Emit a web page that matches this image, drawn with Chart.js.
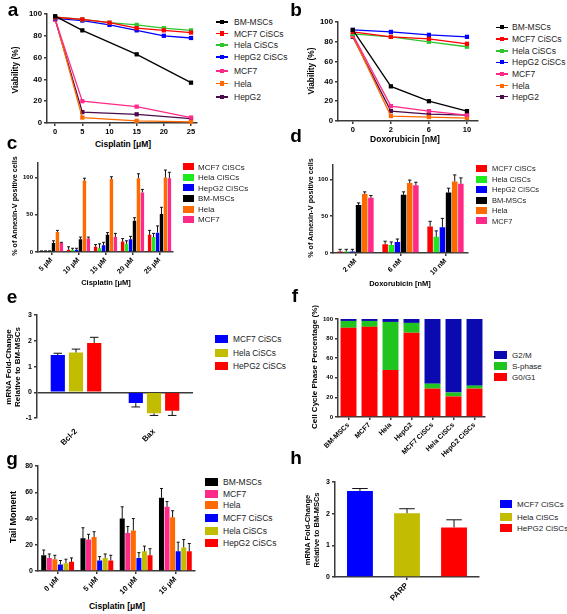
<!DOCTYPE html>
<html>
<head>
<meta charset="utf-8">
<script src="https://cdn.jsdelivr.net/npm/chart.js@4"></script>
<style>
  body { margin: 0; background: #fff; }
  #fig { position: relative; width: 567px; height: 614px; overflow: hidden; font-family: "Liberation Sans", Arial, sans-serif; }
  #fig canvas { position: absolute; }
  .txt { position: absolute; white-space: pre; text-align: center; line-height: 1.15; color: #000; z-index: 2; }
  .leg { position: absolute; white-space: nowrap; color: #222; z-index: 2; transform: translateY(-50%); }
  .sw { position: absolute; z-index: 2; }
</style>
</head>
<body>
<div id="fig"></div>
<script>
// ---- data ----
// a: viability vs cisplatin
const cisDoseAll = [0, 5, 10, 15, 20, 25];
const cisDoseSome = [0, 5, 15, 25];
const cisTicks = [0, 5, 10, 15, 20, 25];
const viaTicks = [0, 20, 40, 60, 80, 100];
const aBM = [98, 85, 63, 37];
const aMCF7CSC = [97, 95, 92, 87, 85, 83];
const aHelaCSC = [97, 95, 92, 90, 87, 85];
const aHepCSC = [96, 94, 90, 85, 80, 78];
const aMCF7 = [95, 20, 15, 5];
const aHela = [96, 5, 2, 1];
const aHep = [95, 10, 8, 4];

// b: viability vs doxorubicin
const doxLabels = ['0', '2', '6', '10'];
const bBM = [92, 35, 20, 10];
const bMCF7CSC = [90, 85, 83, 78];
const bHelaCSC = [88, 85, 80, 75];
const bHepCSC = [92, 90, 87, 85];
const bMCF7 = [87, 15, 10, 6];
const bHela = [86, 5, 4, 3];
const bHep = [85, 10, 7, 6];

// c: annexin-V, cisplatin
const cisLabels = ['5 μM', '10 μM', '15 μM', '20 μM', '25 μM'];
const annexTicks = [0, 50, 100];
const cMCF7CSC = [1, 3, 7, 14, 23];      const cMCF7CSCerr = [0.5, 4, 3, 4, 6];
const cHelaCSC = [1, 3, 5, 11, 20];      const cHelaCSCerr = [0.5, 2, 6, 4, 5];
const cHepCSC = [1, 3, 9, 17, 26];       const cHepCSCerr = [0.5, 2, 4, 4, 9];
const cBM = [12, 17, 23, 42, 51];        const cBMerr = [3, 3, 3, 4, 9];
const cHela = [27, 96, 98, 99, 100];     const cHelaErr = [2, 3, 3, 6, 10];
const cMCF7 = [12, 18, 20, 80, 99];      const cMCF7err = [1, 2, 5, 4, 8];

// d: annexin-V, doxorubicin
const doxBarLabels = ['2 nM', '6 nM', '10 nM'];
const dMCF7CSC = [2, 12, 36];   const dMCF7CSCerr = [3, 4, 7];
const dHelaCSC = [2, 11, 22];   const dHelaCSCerr = [3, 4, 8];
const dHepCSC = [2, 15, 35];    const dHepCSCerr = [3, 4, 12];
const dBM = [65, 79, 82];       const dBMerr = [3, 4, 6];
const dHela = [80, 95, 97];     const dHelaErr = [3, 4, 9];
const dMCF7 = [75, 92, 94];     const dMCF7err = [3, 4, 8];

// e: Bcl-2 / Bax mRNA
const genes = ['Bcl-2', 'Bax'];
const mrnaTicks = [-1, 0, 1, 2, 3];
const eMCF7CSC = [1.45, -0.42];  const eMCF7CSCerr = [0.07, 0.15];
const eHelaCSC = [1.55, -0.82];  const eHelaCSCerr = [0.13, 0.08];
const eHepCSC = [1.92, -0.72];   const eHepCSCerr = [0.22, 0.18];

// f: cell cycle
const cellLines = ['BM-MSCs', 'MCF7', 'Hela', 'HepG2', 'MCF7 CiSCs', 'Hela CiSCs', 'HepG2 CiSCs'];
const cycleTicks = [0, 20, 40, 60, 80, 100];
const fG0G1 = [91, 92, 48, 86, 29, 21, 29];
const fS = [7, 6, 49, 10, 5, 4, 3];
const fG2M = [2, 2, 3, 4, 66, 75, 68];

// g: comet tail moment
const tailLabels = ['0 μM', '5 μM', '10 μM', '15 μM'];
const tailTicks = [0, 20, 40, 60, 80];
const gBM = [12, 25, 40, 56];       const gBMerr = [4, 8, 9, 7];
const gMCF7 = [10, 24, 29, 49];     const gMCF7err = [3, 4, 5, 4];
const gHela = [9, 26, 31, 41];      const gHelaErr = [3, 4, 9, 5];
const gMCF7CSC = [5, 8, 10, 15];    const gMCF7CSCerr = [3, 3, 4, 7];
const gHelaCSC = [6, 10, 15, 18];   const gHelaCSCerr = [3, 3, 4, 6];
const gHepCSC = [7, 8, 12, 15];     const gHepCSCerr = [3, 4, 5, 6];

// h: PARP mRNA
const parpLabels = ['PARP'];
const parpTicks = [0, 1, 2, 3];
const hMCF7CSC = [2.72];  const hMCF7CSCerr = [0.08];
const hHelaCSC = [2.02];  const hHelaCSCerr = [0.14];
const hHepCSC = [1.57];   const hHepCSCerr = [0.24];

// ---- colours ----
const BLACK = '#000000', RED = '#ff0000', GREEN = '#2fc52f', BRIGHTGREEN = '#1ee81e',
      BLUE = '#0000ff', DARKBLUE = '#0a0ab0', PINK = '#ff2a88', ORANGE = '#ff6a00',
      PURPLE = '#4a0b4a', OLIVE = '#c2bd00';
const axisCol = '#3a3a3a';
const FONT = '"Liberation Sans", Arial, sans-serif';
const fig = document.getElementById('fig');

// ---- helpers ----
function tf(size) { return { family: FONT, size: size, weight: 'bold' }; }

function makeCanvas(box, pad) {
  const c = document.createElement('canvas');
  const w = box.r - box.l + pad.l + pad.r, h = box.b - box.t + pad.t + pad.b;
  c.width = w; c.height = h;
  c.style.width = w + 'px'; c.style.height = h + 'px';
  c.style.left = (box.l - pad.l) + 'px'; c.style.top = (box.t - pad.t) + 'px';
  fig.appendChild(c);
  return c;
}

function baseOpts(pad) {
  return {
    responsive: false, animation: false, devicePixelRatio: 1,
    layout: { padding: { top: pad.t, right: pad.r, left: 0, bottom: 0 } },
    plugins: { legend: { display: false }, tooltip: { enabled: false } }
  };
}

function yAxis(pad, min, max, ticks, size, grid) {
  return {
    type: 'linear', min: min, max: max,
    afterBuildTicks: s => { s.ticks = ticks.map(v => ({ value: v })); },
    ticks: { font: tf(size), color: '#000', padding: 2 },
    grid: grid || { drawOnChartArea: false, color: axisCol, tickLength: 3, lineWidth: 1.5 },
    border: { color: axisCol, width: 1.5 },
    afterFit: s => { s.width = pad.l; }
  };
}

function xCat(pad, size, rot, noTicks) {
  return {
    type: 'category', offset: true,
    ticks: { font: tf(size), color: '#000', minRotation: rot, maxRotation: rot, padding: 1, autoSkip: false },
    grid: noTicks ? { display: false } : { drawOnChartArea: false, offset: false, color: axisCol, tickLength: 3, lineWidth: 1.5 },
    border: noTicks ? { display: false } : { color: axisCol, width: 1.5 },
    afterFit: s => { s.height = pad.b; }
  };
}

function lineSet(name, xs, ys, color) {
  return {
    label: name, data: xs.map((x, i) => ({ x: x, y: ys[i] })),
    borderColor: color, backgroundColor: color, borderWidth: 1.3,
    pointStyle: 'rect', pointRadius: 3, pointBorderWidth: 0, clip: false, tension: 0
  };
}

function barSet(name, vals, errs, color) {
  return { label: name, data: vals, errors: errs, backgroundColor: color, borderWidth: 0 };
}

// error bars drawn from each bar's end, away from zero
const errorBars = {
  id: 'errorBars',
  afterDatasetsDraw(chart) {
    const ctx = chart.ctx, ys = chart.scales.y;
    chart.data.datasets.forEach((ds, i) => {
      if (!ds.errors) return;
      const meta = chart.getDatasetMeta(i);
      meta.data.forEach((bar, j) => {
        const v = ds.data[j], e = ds.errors[j];
        const dir = v < 0 ? -1 : 1;
        const end = ys.getPixelForValue(v + dir * e);
        const cap = Math.max(bar.width * 0.3, 1.5);
        ctx.save();
        ctx.strokeStyle = '#111';
        ctx.lineWidth = 1;
        ctx.beginPath();
        ctx.moveTo(bar.x, bar.y);
        ctx.lineTo(bar.x, end);
        ctx.moveTo(bar.x - cap, end);
        ctx.lineTo(bar.x + cap, end);
        ctx.stroke();
        ctx.restore();
      });
    });
  }
};

function txt(s, x, y, size, rot, weight) {
  const d = document.createElement('div');
  d.className = 'txt';
  d.textContent = s;
  d.style.left = x + 'px'; d.style.top = y + 'px';
  d.style.fontSize = size + 'px';
  d.style.fontWeight = weight || 'bold';
  d.style.transform = 'translate(-50%,-50%)' + (rot ? ' rotate(-90deg)' : '');
  fig.appendChild(d);
}

// legend rows built from the chart's datasets
function legend(chart, order, kind, x, textX, rows, size, sw) {
  order.forEach((k, i) => {
    const ds = chart.data.datasets[k], y = rows[i];
    if (kind === 'line') {
      const l = document.createElement('div');
      l.className = 'sw';
      Object.assign(l.style, { left: (x - 6) + 'px', top: (y - 0.6) + 'px', width: '12px', height: '1.3px', background: ds.borderColor });
      fig.appendChild(l);
      const m = document.createElement('div');
      m.className = 'sw';
      Object.assign(m.style, { left: (x - 2.2) + 'px', top: (y - 2.2) + 'px', width: '4.4px', height: '4.4px', background: ds.borderColor });
      fig.appendChild(m);
    } else {
      const b = document.createElement('div');
      b.className = 'sw';
      Object.assign(b.style, { left: x + 'px', top: (y - sw[1] / 2) + 'px', width: sw[0] + 'px', height: sw[1] + 'px', background: ds.backgroundColor });
      fig.appendChild(b);
    }
    const t = document.createElement('div');
    t.className = 'leg';
    t.textContent = ds.label;
    Object.assign(t.style, { left: textX + 'px', top: y + 'px', fontSize: size + 'px' });
    fig.appendChild(t);
  });
}

// ---- a ----
let pad = { l: 40, t: 8, r: 8, b: 14 };
let opts = baseOpts(pad);
opts.scales = {
  x: {
    type: 'linear', min: -1.5, max: 26.1,
    afterBuildTicks: s => { s.ticks = cisTicks.map(v => ({ value: v })); },
    ticks: { font: tf(7.5), color: '#000', padding: 1 },
    grid: { drawOnChartArea: false, color: axisCol, tickLength: 3, lineWidth: 1.5 },
    border: { color: axisCol, width: 1.5 },
    afterFit: s => { s.height = pad.b; }
  },
  y: yAxis(pad, 0, 100, viaTicks, 7.8)
};
const chartA = new Chart(makeCanvas({ l: 47, t: 14, r: 197, b: 123 }, pad), {
  type: 'line',
  data: { datasets: [
    lineSet('BM-MSCs', cisDoseSome, aBM, BLACK),
    lineSet('MCF7 CiSCs', cisDoseAll, aMCF7CSC, RED),
    lineSet('Hela CiSCs', cisDoseAll, aHelaCSC, GREEN),
    lineSet('HepG2 CiSCs', cisDoseAll, aHepCSC, BLUE),
    lineSet('MCF7', cisDoseSome, aMCF7, PINK),
    lineSet('Hela', cisDoseSome, aHela, ORANGE),
    lineSet('HepG2', cisDoseSome, aHep, PURPLE)
  ] },
  options: opts
});
legend(chartA, [0, 1, 2, 3, 4, 5, 6], 'line', 222, 234, [22, 33.5, 45, 57, 71, 83.5, 97], 8.5);
txt('Viability (%)', 16, 70, 8.3, true);
txt('Cisplatin [μM]', 123, 145, 8.5);

// ---- b ----
pad = { l: 40, t: 8, r: 8, b: 14 };
opts = baseOpts(pad);
const doxIdx = doxLabels.map((d, i) => i);
opts.scales = {
  x: {
    type: 'linear', min: -0.39, max: 3.29,
    afterBuildTicks: s => { s.ticks = doxIdx.map(v => ({ value: v })); },
    ticks: { font: tf(7.5), color: '#000', padding: 1, callback: v => doxLabels[v] },
    grid: { drawOnChartArea: false, color: axisCol, tickLength: 3, lineWidth: 1.5 },
    border: { color: axisCol, width: 1.5 },
    afterFit: s => { s.height = pad.b; }
  },
  y: yAxis(pad, 0, 100, viaTicks, 7.8)
};
const chartB = new Chart(makeCanvas({ l: 338, t: 22, r: 478, b: 121 }, pad), {
  type: 'line',
  data: { datasets: [
    lineSet('BM-MSCs', doxIdx, bBM, BLACK),
    lineSet('MCF7 CiSCs', doxIdx, bMCF7CSC, RED),
    lineSet('Hela CiSCs', doxIdx, bHelaCSC, GREEN),
    lineSet('HepG2 CiSCs', doxIdx, bHepCSC, BLUE),
    lineSet('MCF7', doxIdx, bMCF7, PINK),
    lineSet('Hela', doxIdx, bHela, ORANGE),
    lineSet('HepG2', doxIdx, bHep, PURPLE)
  ] },
  options: opts
});
legend(chartB, [0, 1, 2, 3, 4, 5, 6], 'line', 502, 512, [27.3, 39, 51, 62.3, 74, 85.7, 96.7], 8.5);
txt('Viability (%)', 312, 71, 8.3, true);
txt('Doxorubicin [nM]', 405, 140, 8.5);

// ---- c ----
pad = { l: 30, t: 4, r: 6, b: 28 };
opts = baseOpts(pad);
opts.datasets = { bar: { categoryPercentage: 0.88, barPercentage: 0.86 } };
opts.scales = { x: xCat(pad, 7, 45), y: yAxis(pad, 0, 120, annexTicks, 6) };
const chartC = new Chart(makeCanvas({ l: 38, t: 161, r: 173, b: 252 }, pad), {
  type: 'bar',
  data: { labels: cisLabels, datasets: [
    barSet('MCF7 CiSCs', cMCF7CSC, cMCF7CSCerr, RED),
    barSet('Hela CiSCs', cHelaCSC, cHelaCSCerr, BRIGHTGREEN),
    barSet('HepG2 CiSCs', cHepCSC, cHepCSCerr, BLUE),
    barSet('BM-MSCs', cBM, cBMerr, BLACK),
    barSet('Hela', cHela, cHelaErr, ORANGE),
    barSet('MCF7', cMCF7, cMCF7err, PINK)
  ] },
  options: opts,
  plugins: [errorBars]
});
legend(chartC, [0, 1, 2, 3, 4, 5], 'box', 183, 198, [166.7, 177.3, 187.7, 198.3, 209, 219.3], 8, [10.5, 7]);
txt('% of Annexin-V positive cells', 15, 206, 7.2, true);
txt('Cisplatin [μM]', 106, 283, 7.5);

// ---- d ----
pad = { l: 40, t: 4, r: 6, b: 28 };
opts = baseOpts(pad);
opts.datasets = { bar: { categoryPercentage: 0.82, barPercentage: 0.9 } };
opts.scales = { x: xCat(pad, 7, 45), y: yAxis(pad, 0, 120, annexTicks, 6) };
const chartD = new Chart(makeCanvas({ l: 333, t: 163, r: 468, b: 253 }, pad), {
  type: 'bar',
  data: { labels: doxBarLabels, datasets: [
    barSet('MCF7 CiSCs', dMCF7CSC, dMCF7CSCerr, RED),
    barSet('Hela CiSCs', dHelaCSC, dHelaCSCerr, BRIGHTGREEN),
    barSet('HepG2 CiSCs', dHepCSC, dHepCSCerr, BLUE),
    barSet('BM-MSCs', dBM, dBMerr, BLACK),
    barSet('Hela', dHela, dHelaErr, ORANGE),
    barSet('MCF7', dMCF7, dMCF7err, PINK)
  ] },
  options: opts,
  plugins: [errorBars]
});
legend(chartD, [0, 1, 2, 3, 4, 5], 'box', 476, 492, [168.3, 179.3, 189.3, 200, 210.3, 220.7], 7.5, [11, 7]);
txt('% of Annexin-V positive cells', 311, 208, 7.2, true);
txt('Doxorubicin [nM]', 400, 284, 7.5);

// ---- e ----
pad = { l: 25, t: 6, r: 6, b: 30 };
opts = baseOpts(pad);
opts.datasets = { bar: { categoryPercentage: 0.7, barPercentage: 0.78 } };
opts.scales = {
  x: xCat(pad, 8, 45, true),
  y: yAxis(pad, -1, 3, mrnaTicks, 7, {
    drawOnChartArea: true, lineWidth: 1.5, tickLength: 3, tickColor: axisCol,
    color: c => (c.tick && c.tick.value === 0) ? axisCol : 'rgba(0,0,0,0)'
  })
};
const chartE = new Chart(makeCanvas({ l: 37, t: 315, r: 193, b: 418 }, pad), {
  type: 'bar',
  data: { labels: genes, datasets: [
    barSet('MCF7 CiSCs', eMCF7CSC, eMCF7CSCerr, BLUE),
    barSet('Hela CiSCs', eHelaCSC, eHelaCSCerr, OLIVE),
    barSet('HePG2 CiSCs', eHepCSC, eHepCSCerr, RED)
  ] },
  options: opts,
  plugins: [errorBars]
});
legend(chartE, [0, 1, 2], 'box', 215, 233, [339.3, 352.7, 365.7], 8.3, [13, 8]);
txt('mRNA Fold-Change\nRelative to BM-MSCs', 13, 367, 8, true);

// ---- f ----
pad = { l: 25, t: 6, r: 6, b: 45 };
opts = baseOpts(pad);
opts.datasets = { bar: { categoryPercentage: 1, barPercentage: 0.76 } };
opts.scales = { x: xCat(pad, 7, 45), y: yAxis(pad, 0, 100, cycleTicks, 6) };
opts.scales.x.stacked = true;
opts.scales.y.stacked = true;
const chartF = new Chart(makeCanvas({ l: 338, t: 319, r: 485, b: 417 }, pad), {
  type: 'bar',
  data: { labels: cellLines, datasets: [
    barSet('G0/G1', fG0G1, null, RED),
    barSet('S-phase', fS, null, '#1fc41f'),
    barSet('G2/M', fG2M, null, DARKBLUE)
  ] },
  options: opts
});
legend(chartF, [2, 1, 0], 'box', 494, 512, [355, 366, 377], 8, [13, 8]);
txt('Cell Cycle Phase Percentage (%)', 315, 367, 8, true);

// ---- g ----
pad = { l: 25, t: 6, r: 6, b: 30 };
opts = baseOpts(pad);
opts.datasets = { bar: { categoryPercentage: 0.85, barPercentage: 0.9 } };
opts.scales = { x: xCat(pad, 7.5, 45), y: yAxis(pad, 0, 80, tailTicks, 7) };
const chartG = new Chart(makeCanvas({ l: 38, t: 466, r: 195, b: 571 }, pad), {
  type: 'bar',
  data: { labels: tailLabels, datasets: [
    barSet('BM-MSCs', gBM, gBMerr, BLACK),
    barSet('MCF7', gMCF7, gMCF7err, PINK),
    barSet('Hela', gHela, gHelaErr, ORANGE),
    barSet('MCF7 CiSCs', gMCF7CSC, gMCF7CSCerr, BLUE),
    barSet('Hela CiSCs', gHelaCSC, gHelaCSCerr, OLIVE),
    barSet('HepG2 CiSCs', gHepCSC, gHepCSCerr, RED)
  ] },
  options: opts,
  plugins: [errorBars]
});
legend(chartG, [0, 1, 2, 3, 4, 5], 'box', 205, 223, [482.3, 493.6, 505, 518.3, 530.7, 542.7], 8.5, [13, 8]);
txt('Tail Moment', 13, 517, 9, true);
txt('Cisplatin [μM]', 117, 607, 8.5);

// ---- h ----
pad = { l: 25, t: 6, r: 6, b: 30 };
opts = baseOpts(pad);
opts.datasets = { bar: { categoryPercentage: 0.98, barPercentage: 0.55 } };
opts.scales = { x: xCat(pad, 8, 45), y: yAxis(pad, 0, 3, parpTicks, 7) };
const chartH = new Chart(makeCanvas({ l: 335, t: 482, r: 479, b: 577 }, pad), {
  type: 'bar',
  data: { labels: parpLabels, datasets: [
    barSet('MCF7 CiSCs', hMCF7CSC, hMCF7CSCerr, BLUE),
    barSet('Hela CiSCs', hHelaCSC, hHelaCSCerr, OLIVE),
    barSet('HePG2 CiSCs', hHepCSC, hHepCSCerr, RED)
  ] },
  options: opts,
  plugins: [errorBars]
});
legend(chartH, [0, 1, 2], 'box', 500, 517, [504.3, 516.7, 527.7], 8, [12, 8]);
txt('mRNA Fold-Change\nRelative to BM-MSCs', 313, 530, 7.5, true);

// panel letters
[['a', 13, 10], ['b', 296, 10], ['c', 12, 143], ['d', 296, 136],
 ['e', 12, 297], ['f', 295, 296], ['g', 12, 459], ['h', 296, 458]].forEach(p => txt(p[0], p[1], p[2], 19));
</script>
</body>
</html>
